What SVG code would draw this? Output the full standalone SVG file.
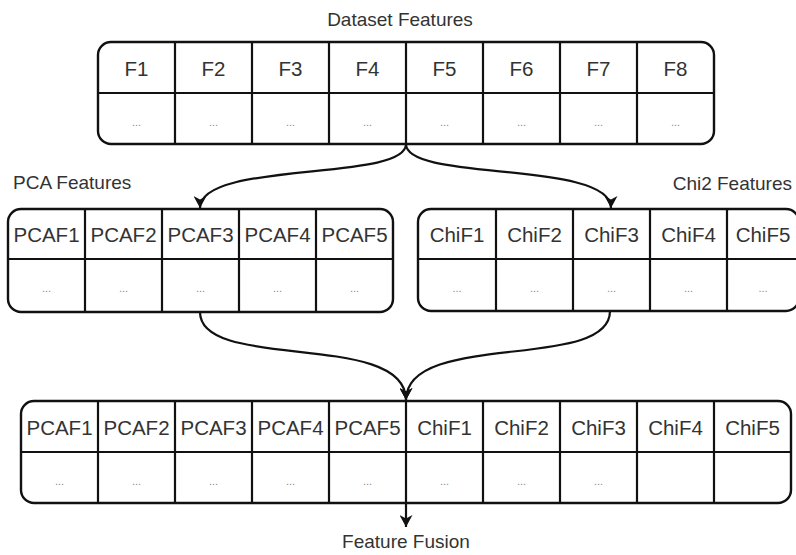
<svg xmlns="http://www.w3.org/2000/svg" width="796" height="555" viewBox="0 0 796 555">
  <style>
    .frame { fill: #ffffff; stroke: #111111; stroke-width: 2.4; }
    .grid { stroke: #111111; stroke-width: 2.2; fill: none; }
    .head { font-family: "Liberation Sans", Arial, sans-serif; font-size: 20.5px; fill: #333333; text-anchor: middle; }
    .dots { font-family: "Liberation Sans", Arial, sans-serif; font-size: 11px; fill: #8a8a8a; text-anchor: middle; }
    .label { font-family: "Liberation Sans", Arial, sans-serif; font-size: 19px; fill: #333333; }
    .edge { fill: none; stroke: #111111; stroke-width: 2.2; marker-end: url(#arrow); }
  </style>
  <defs>
    <marker id="arrow" markerUnits="userSpaceOnUse" markerWidth="12" markerHeight="13" refX="12" refY="6.5" orient="auto">
      <path d="M0,0 L12,6.5 L0,13 L3.5,6.5 z" fill="#111111"/>
    </marker>
  </defs>

  <rect width="796" height="555" fill="#ffffff"/>

  <!-- connectors -->
  <g id="connectors">
    <path class="edge" d="M406,144 C406,182 200,160 200,208"/>
    <path class="edge" d="M406,144 C406,182 611,160 611,208"/>
    <path class="edge" d="M200,312 C200,372 406,330 406,400"/>
    <path class="edge" d="M610,311 C610,372 406,330 406,400"/>
    <path class="edge" d="M406,401 L406,527"/>
  </g>

  <!-- dataset features table -->
  <g id="dataset-features">
    <text class="label" x="400" y="26" text-anchor="middle">Dataset Features</text>
    <rect class="frame" x="98" y="42" width="616" height="102" rx="13"/>
    <path class="grid" d="M98,93 H714 M175,42 V144 M252,42 V144 M329,42 V144 M406,42 V144 M483,42 V144 M560,42 V144 M637,42 V144"/>
    <text class="head" x="136.5" y="76">F1</text>
    <text class="head" x="213.5" y="76">F2</text>
    <text class="head" x="290.5" y="76">F3</text>
    <text class="head" x="367.5" y="76">F4</text>
    <text class="head" x="444.5" y="76">F5</text>
    <text class="head" x="521.5" y="76">F6</text>
    <text class="head" x="598.5" y="76">F7</text>
    <text class="head" x="675.5" y="76">F8</text>
    <text class="dots" x="136.5" y="126">...</text>
    <text class="dots" x="213.5" y="126">...</text>
    <text class="dots" x="290.5" y="126">...</text>
    <text class="dots" x="367.5" y="126">...</text>
    <text class="dots" x="444.5" y="126">...</text>
    <text class="dots" x="521.5" y="126">...</text>
    <text class="dots" x="598.5" y="126">...</text>
    <text class="dots" x="675.5" y="126">...</text>
  </g>

  <!-- PCA features table -->
  <g id="pca-features">
    <text class="label" x="13" y="189">PCA Features</text>
    <rect class="frame" x="8" y="209" width="385" height="103" rx="13"/>
    <path class="grid" d="M8,259 H393 M85,209 V312 M162,209 V312 M239,209 V312 M316,209 V312"/>
    <text class="head" x="46.5" y="242">PCAF1</text>
    <text class="head" x="123.5" y="242">PCAF2</text>
    <text class="head" x="200.5" y="242">PCAF3</text>
    <text class="head" x="277.5" y="242">PCAF4</text>
    <text class="head" x="354.5" y="242">PCAF5</text>
    <text class="dots" x="46.5" y="292">...</text>
    <text class="dots" x="123.5" y="292">...</text>
    <text class="dots" x="200.5" y="292">...</text>
    <text class="dots" x="277.5" y="292">...</text>
    <text class="dots" x="354.5" y="292">...</text>
  </g>

  <!-- Chi2 features table -->
  <g id="chi2-features">
    <text class="label" x="792" y="190" text-anchor="end">Chi2 Features</text>
    <rect class="frame" x="418" y="209" width="381" height="102" rx="13"/>
    <path class="grid" d="M418,259 H799 M496,209 V311 M573,209 V311 M650,209 V311 M727,209 V311"/>
    <text class="head" x="457" y="242">ChiF1</text>
    <text class="head" x="534.5" y="242">ChiF2</text>
    <text class="head" x="611.5" y="242">ChiF3</text>
    <text class="head" x="688.5" y="242">ChiF4</text>
    <text class="head" x="763" y="242">ChiF5</text>
    <text class="dots" x="457" y="292">...</text>
    <text class="dots" x="534.5" y="292">...</text>
    <text class="dots" x="611.5" y="292">...</text>
    <text class="dots" x="688.5" y="292">...</text>
    <text class="dots" x="763" y="292">...</text>
  </g>

  <!-- fused features table -->
  <g id="feature-fusion">
    <rect class="frame" x="21" y="401" width="770" height="102" rx="13"/>
    <path class="grid" d="M21,452 H791 M98,401 V503 M175,401 V503 M252,401 V503 M329,401 V503 M406,401 V503 M483,401 V503 M560,401 V503 M637,401 V503 M714,401 V503"/>
    <text class="head" x="59.5" y="435">PCAF1</text>
    <text class="head" x="136.5" y="435">PCAF2</text>
    <text class="head" x="213.5" y="435">PCAF3</text>
    <text class="head" x="290.5" y="435">PCAF4</text>
    <text class="head" x="367.5" y="435">PCAF5</text>
    <text class="head" x="444.5" y="435">ChiF1</text>
    <text class="head" x="521.5" y="435">ChiF2</text>
    <text class="head" x="598.5" y="435">ChiF3</text>
    <text class="head" x="675.5" y="435">ChiF4</text>
    <text class="head" x="752.5" y="435">ChiF5</text>
    <text class="dots" x="59.5" y="485">...</text>
    <text class="dots" x="136.5" y="485">...</text>
    <text class="dots" x="213.5" y="485">...</text>
    <text class="dots" x="290.5" y="485">...</text>
    <text class="dots" x="367.5" y="485">...</text>
    <text class="dots" x="444.5" y="485">...</text>
    <text class="dots" x="521.5" y="485">...</text>
    <text class="dots" x="598.5" y="485">...</text>
    <text class="label" x="406" y="548" text-anchor="middle">Feature Fusion</text>
  </g>
</svg>
